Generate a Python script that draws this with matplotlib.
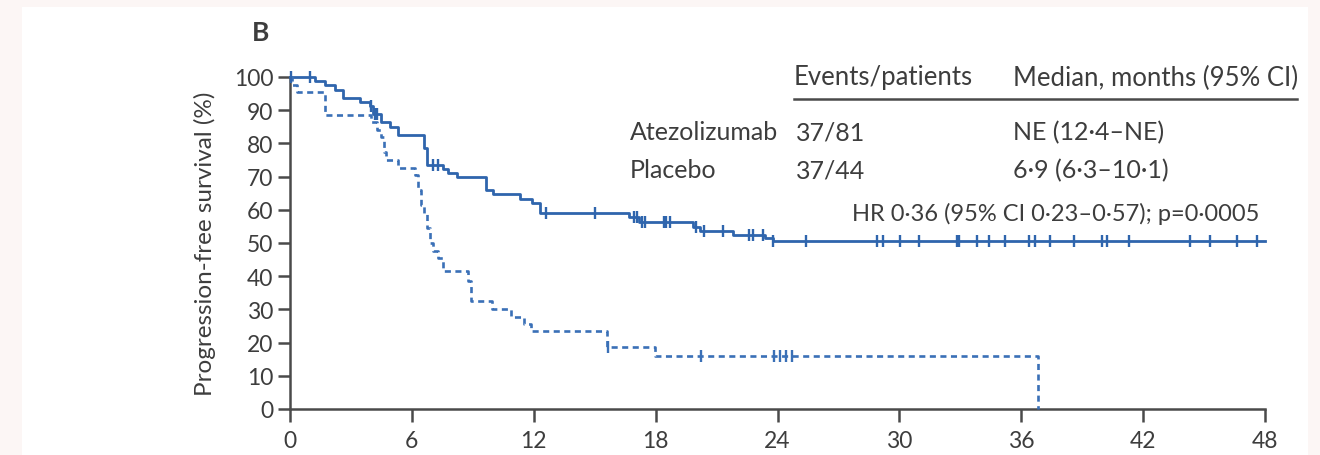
import numpy as np
import matplotlib
matplotlib.use("Agg")
import matplotlib.pyplot as plt
from matplotlib.patches import Rectangle

plt.rcParams['font.family'] = ['Lato', 'DejaVu Sans']

# ---------------- data ----------------
x_ticks = [0, 6, 12, 18, 24, 30, 36, 42, 48]
y_ticks = [0, 10, 20, 30, 40, 50, 60, 70, 80, 90, 100]

atezo_times = [0, 1.23, 1.72, 2.2, 2.62, 3.44, 3.93, 4.1, 4.5, 4.9, 5.33, 6.6, 6.75,
               7.54, 7.8, 8.2, 9.67, 10.0, 11.3, 11.9, 12.3, 16.7, 17.2, 19.84,
               20.2, 21.8, 23.4, 23.8, 48]
atezo_surv = [100, 98.8, 97.5, 96.2, 93.8, 92.5, 91.3, 88.8, 86.3, 85.0, 82.5, 78.5, 73.6,
              72.3, 71.0, 69.8, 66.0, 64.7, 63.4, 62.1, 58.9, 57.7, 56.2, 54.7,
              53.7, 52.4, 51.5, 50.7, 50.7]
atezo_censor = [0.05, 1.0, 4.0, 4.2, 4.3, 7.05, 7.3, 12.6, 15.0, 16.95, 17.1, 17.35, 17.5,
                18.4, 18.5, 18.7, 20.0, 20.4, 21.3, 22.6, 22.8, 23.3, 23.8, 25.4, 28.9,
                29.2, 30.05, 30.97, 32.85, 32.95, 33.8, 34.4, 35.2, 36.4, 36.7, 37.4,
                38.6, 39.96, 40.2, 41.3, 44.3, 45.3, 46.6, 47.6]

placebo_times = [0, 0.1, 0.35, 1.7, 4.0, 4.3, 4.5, 4.65, 4.75, 5.3, 6.15, 6.3, 6.45,
                 6.6, 6.75, 6.9, 7.05, 7.3, 7.55, 8.75, 8.9, 9.95, 10.9, 11.5, 11.85,
                 15.6, 17.95, 36.8]
placebo_surv = [100, 97.7, 95.5, 88.6, 86.4, 84.1, 81.8, 77.3, 75.0, 72.7, 70.5, 65.9, 61.4,
                59.1, 54.5, 50.0, 47.7, 45.5, 41.5, 38.6, 32.4, 30.0, 27.6, 25.5, 23.6,
                18.6, 16.1, 0]
placebo_censor = [15.65, 20.25, 23.85, 24.1, 24.4, 24.7]

header = ["Events/patients", "Median, months (95% CI)"]
arms = ["Atezolizumab", "Placebo"]
events = ["37/81", "37/44"]
medians = ["NE (12\u00b74\u2013NE)", "6\u00b79 (6\u00b73\u201310\u00b71)"]
hr_text = "HR 0\u00b736 (95% CI 0\u00b723\u20130\u00b757); p=0\u00b70005"
panel_label = "B"
y_label = "Progression-free survival (%)"

# ---------------- style ----------------
W, H = 1320, 456
blue = "#2f65ad"
blue2 = "#3a70b7"
txt = "#3d3d3d"
axc = "#4a4a4a"

fig = plt.figure(figsize=(W / 100, H / 100), dpi=100)
fig.patch.set_facecolor("#fcf6f5")
fig.add_artist(Rectangle((22 / W, 0), (1308 - 22) / W, 1 - 8 / H,
                         transform=fig.transFigure, facecolor="white",
                         edgecolor="none", zorder=-5))

ax = fig.add_axes([290 / W, 1 - 410 / H, (1265 - 290) / W, (410 - 78) / H])
ax.set_zorder(2)
ax.set_facecolor("none")
ax.set_xlim(0, 48)
ax.set_ylim(0, 100)

for s in ["top", "right"]:
    ax.spines[s].set_visible(False)
for s in ["left", "bottom"]:
    ax.spines[s].set_color(axc)
    ax.spines[s].set_linewidth(1.8)

ax.set_xticks(x_ticks)
ax.set_yticks(y_ticks)
ax.tick_params(axis="both", length=9, width=1.8, color=axc, labelcolor=txt,
               labelsize=16.5, direction="out")
ax.tick_params(axis="x", pad=6)
ax.tick_params(axis="y", pad=3)

ax.set_ylabel(y_label, fontsize=17.5, color=txt)
ax.yaxis.set_label_coords(-0.076, 0.5)


def step_level(times, surv, t):
    idx = np.searchsorted(times, t, side="right") - 1
    return np.asarray(surv)[idx]


# Atezolizumab (solid)
ax.step(atezo_times, atezo_surv, where="post", color=blue, lw=2.0,
        clip_on=False, zorder=3)
ax.plot(atezo_censor, step_level(atezo_times, atezo_surv, atezo_censor),
        linestyle="none", marker="|", markersize=8.5, markeredgewidth=1.7,
        color=blue, clip_on=False, zorder=4)

# Placebo (dashed)
ax.step(placebo_times, placebo_surv, where="post", color=blue2, lw=1.9,
        linestyle=(0, (2.3, 1.7)), clip_on=False, zorder=3)
ax.plot(placebo_censor, step_level(placebo_times, placebo_surv, placebo_censor),
        linestyle="none", marker="|", markersize=8.5, markeredgewidth=1.7,
        color=blue2, clip_on=False, zorder=4)


def ftext(x, y, s, **kw):
    fig.text(x / W, 1 - y / H, s, va="center", color=txt, **kw)


ftext(252, 33, panel_label, fontsize=19, fontweight="bold", ha="left")

ftext(794, 78, header[0], fontsize=18.5, ha="left")
ftext(1013, 78, header[1], fontsize=18.5, ha="left")
fig.add_artist(plt.Line2D([794 / W, 1297 / W], [1 - 100 / H, 1 - 100 / H],
                          color=axc, lw=1.8, transform=fig.transFigure))
for i, yy in enumerate([133, 171]):
    ftext(630, yy, arms[i], fontsize=18, ha="left")
    ftext(796, yy, events[i], fontsize=18, ha="left")
    ftext(1013, yy, medians[i], fontsize=18, ha="left")
ftext(852, 214, hr_text, fontsize=17, ha="left")

fig.savefig("out.png", dpi=100, facecolor=fig.get_facecolor())
